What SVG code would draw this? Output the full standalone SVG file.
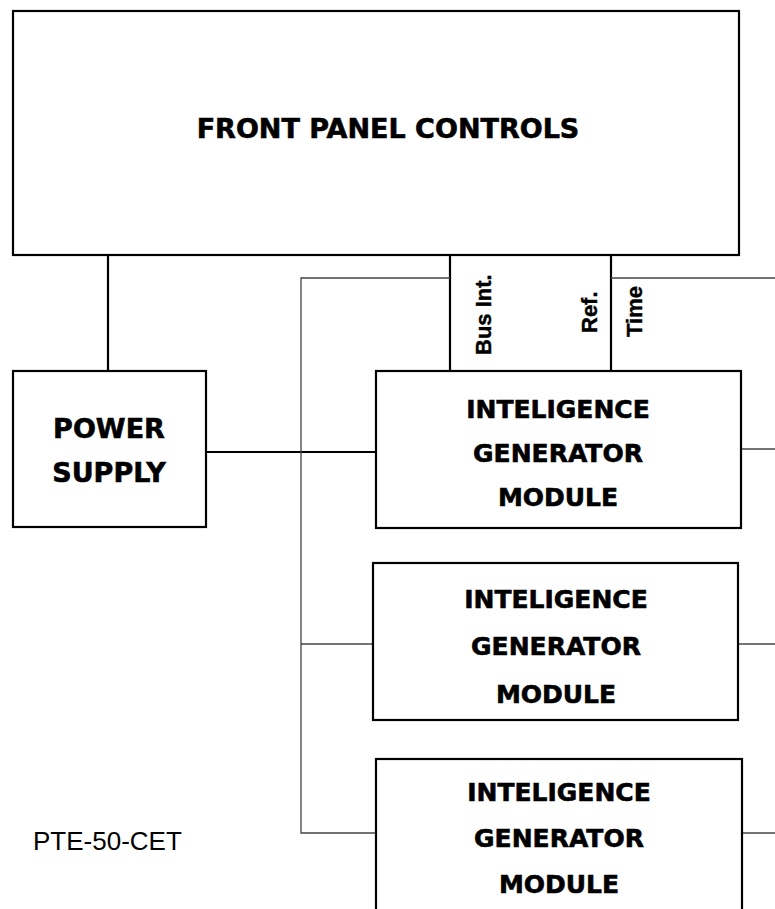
<svg xmlns="http://www.w3.org/2000/svg" width="775" height="909" viewBox="0 0 775 909">
<style>
.box{fill:#fff;stroke:#000;stroke-width:2.2}
.t{font-family:"DejaVu Sans",sans-serif;font-weight:bold;text-anchor:middle;fill:#000;stroke:#000;stroke-width:0.6}
.big{font-size:27px}
.mid{font-size:25px}
.rot{font-family:"Liberation Sans",Arial,sans-serif;font-weight:bold;font-size:22px;fill:#000;stroke:#000;stroke-width:0.4}
.thick{stroke:#000;stroke-width:2.2;fill:none}
.thin{stroke:#444;stroke-width:1.3;fill:none}
</style>
<rect width="775" height="909" fill="#fff"/>
<g id="connectors">
<line class="thick" x1="108" y1="255" x2="108" y2="371"/>
<line class="thick" x1="450" y1="255" x2="450" y2="371"/>
<line class="thick" x1="611" y1="255" x2="611" y2="371"/>
<line class="thick" x1="206" y1="452" x2="376" y2="452"/>
<polyline class="thin" points="450,278 301,278 301,833 376,833"/>
<line class="thin" x1="611" y1="278" x2="775" y2="278"/>
<line class="thin" x1="301" y1="644" x2="373" y2="644"/>
<line class="thin" x1="741" y1="449" x2="775" y2="449"/>
<line class="thin" x1="738" y1="644" x2="775" y2="644"/>
<line class="thin" x1="742" y1="833" x2="775" y2="833"/>
<text class="rot" transform="translate(491,355) rotate(-90)">Bus Int.</text>
<text class="rot" transform="translate(597,333) rotate(-90)">Ref.</text>
<text class="rot" transform="translate(642,337) rotate(-90)">Time</text>
</g>
<g id="front-panel">
<rect class="box" x="13" y="11" width="726" height="244"/>
<text class="t big" x="388" y="138">FRONT PANEL CONTROLS</text>
</g>
<g id="power-supply">
<rect class="box" x="13" y="371" width="193" height="156"/>
<text class="t big" x="109" y="438">POWER</text>
<text class="t big" x="109" y="482">SUPPLY</text>
</g>
<g id="igm1">
<rect class="box" x="376" y="371" width="365" height="157"/>
<text class="t mid" x="558" y="418">INTELIGENCE</text>
<text class="t mid" x="558" y="462">GENERATOR</text>
<text class="t mid" x="558" y="506">MODULE</text>
</g>
<g id="igm2">
<rect class="box" x="373" y="563" width="365" height="157"/>
<text class="t mid" x="556" y="608">INTELIGENCE</text>
<text class="t mid" x="556" y="655">GENERATOR</text>
<text class="t mid" x="556" y="703">MODULE</text>
</g>
<g id="igm3">
<rect class="box" x="376" y="759" width="366" height="170"/>
<text class="t mid" x="559" y="801">INTELIGENCE</text>
<text class="t mid" x="559" y="847">GENERATOR</text>
<text class="t mid" x="559" y="893">MODULE</text>
</g>
<g id="label">
<text x="33" y="850" style="font-family:'Liberation Sans',Arial,sans-serif;font-size:26px;fill:#000">PTE-50-CET</text>
</g>
</svg>
